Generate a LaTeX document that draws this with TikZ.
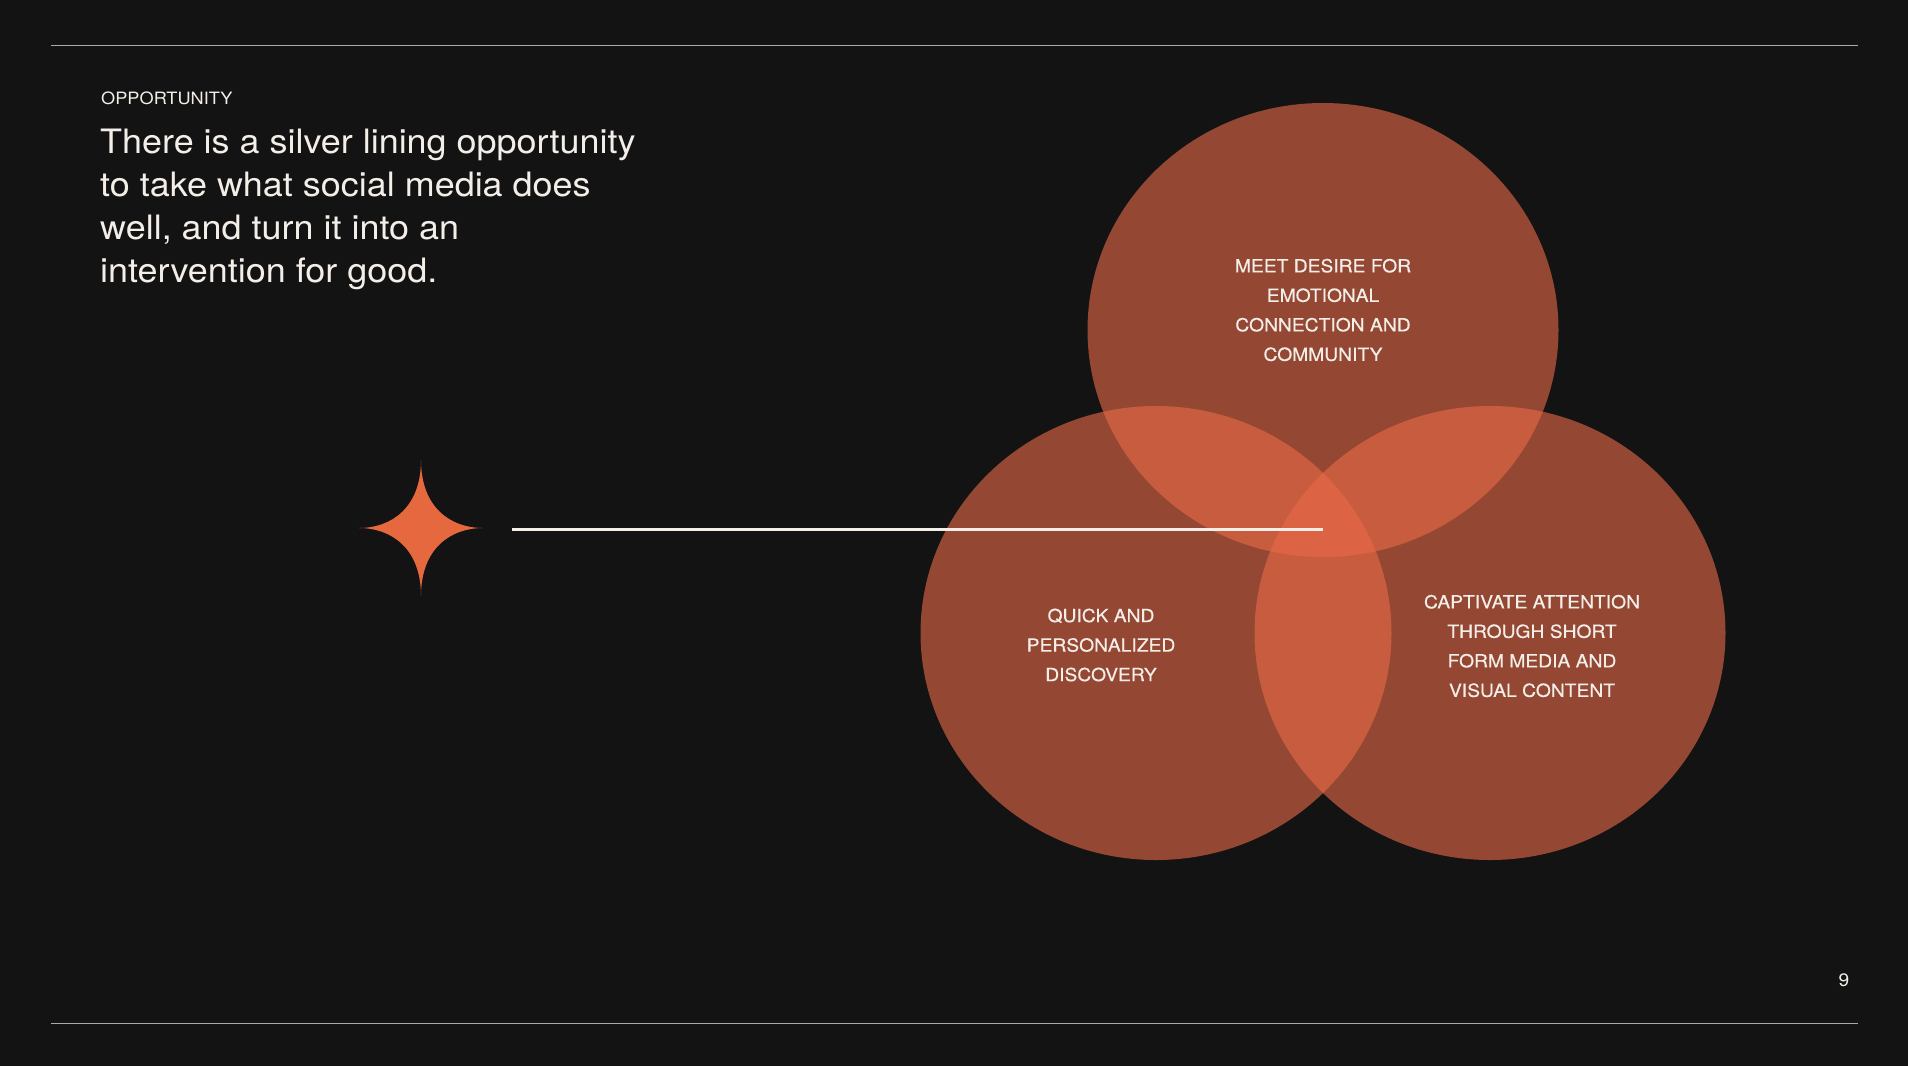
\documentclass[tikz,border=0pt]{standalone}
\usepackage{fontspec}
\setmainfont[FakeStretch=1.07]{TeX Gyre Heros}
\newfontfamily\vennfont[FakeStretch=1.07, FakeBold=0.4]{TeX Gyre Heros}
\usetikzlibrary{positioning,shapes.geometric}
\definecolor{bgInk}{HTML}{131313}
\definecolor{rust}{HTML}{EA6A48}
\definecolor{spark}{HTML}{E5683F}
\definecolor{paper}{HTML}{F4EEE8}
\definecolor{ruleGray}{HTML}{A9A9A9}
\tikzset{
  petal/.style={ellipse, fill=rust, fill opacity=0.6, minimum width=471pt, minimum height=454pt, inner sep=0pt},
  venntxt/.style={font=\vennfont\fontsize{18}{29.5}\selectfont, text=paper, align=center, inner sep=0pt},
  lbl/.style={text=paper, inner sep=0pt},
}

\begin{document}
\begin{tikzpicture}[x=1pt, y=-1pt]
\useasboundingbox (0,0) rectangle (1908,1066);
\fill[bgInk] (0,0) rectangle (1908,1066);
\draw[ruleGray, line width=1.6pt] (51,45.5) -- (1858,45.5);
\draw[ruleGray, line width=1.6pt] (51,1023.5) -- (1858,1023.5);
% heading
\node[lbl, anchor=base west, font=\fontsize{17}{21}\selectfont] (kicker) at (101,104) {OPPORTUNITY};
\node[lbl, anchor=north west, align=left, font=\fontsize{33.6}{43}\selectfont] (headline) at (100,129)
  {There is a silver lining opportunity\\to take what social media does\\well, and turn it into an\\intervention for good.};
% venn
\node[petal] (meet) at (1323,330) {};
\node[petal] (quick) at (1156,633) {};
\node[petal] (captivate) at (1490,633) {};
\node[venntxt] (meetTxt) at (1323,310) {MEET DESIRE FOR\\EMOTIONAL\\CONNECTION AND\\COMMUNITY};
\node[venntxt] (quickTxt) at (1101,645) {QUICK AND\\PERSONALIZED\\DISCOVERY};
\node[venntxt] (captivateTxt) at (1532,646) {CAPTIVATE ATTENTION\\THROUGH SHORT\\FORM MEDIA AND\\VISUAL CONTENT};
% spark and pointer
\fill[spark] (421,460) .. controls (421,508) and (451,528) .. (483,528)
  .. controls (451,528) and (421,548) .. (421,596)
  .. controls (421,548) and (391,528) .. (359,528)
  .. controls (391,528) and (421,508) .. (421,460) -- cycle;
\coordinate (lineStart) at (512,529);
\coordinate (hub) at (1323,529);
\draw[paper, line width=3pt] (lineStart) -- (hub);
\node[lbl, font=\fontsize{18}{21}\selectfont] (pageNo) at (1844,980) {9};
\end{tikzpicture}
\end{document}
